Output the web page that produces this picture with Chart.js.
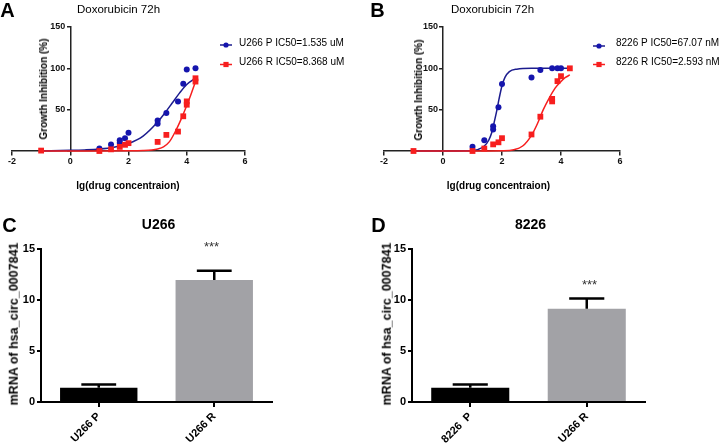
<!DOCTYPE html>
<html><head><meta charset="utf-8">
<script src="https://cdn.jsdelivr.net/npm/chart.js@4.4.1/dist/chart.umd.min.js"></script>
<style>
body{margin:0;background:#fff;}
#wrap{position:relative;width:720px;height:443px;overflow:hidden;font-family:'Liberation Sans',Arial,sans-serif;color:#000;background:#fff;}
canvas{position:absolute;}
.t{position:absolute;white-space:nowrap;line-height:1;transform:translate(-50%,-50%);}
.b{font-weight:bold;}
.v{transform:translate(-50%,-50%) rotate(-90deg);}
</style></head><body><div id="wrap">
<canvas id="cA" width="360" height="200" style="left:0;top:0"></canvas>
<canvas id="cB" width="360" height="200" style="left:360px;top:0"></canvas>
<canvas id="cC" width="360" height="243" style="left:0;top:200px"></canvas>
<canvas id="cD" width="360" height="243" style="left:360px;top:200px"></canvas>

<div class="t b" style="left:7.5px;top:10px;font-size:20px">A</div>
<div class="t b" style="left:377.5px;top:10px;font-size:20px">B</div>
<div class="t b" style="left:9.5px;top:225px;font-size:20px">C</div>
<div class="t b" style="left:378.5px;top:225px;font-size:20px">D</div>

<div class="t" style="left:118.5px;top:10px;font-size:11.5px">Doxorubicin 72h</div>
<div class="t" style="left:492.5px;top:10px;font-size:11.5px">Doxorubicin 72h</div>
<div class="t b" style="left:158.5px;top:223.5px;font-size:14px">U266</div>
<div class="t b" style="left:530.5px;top:224px;font-size:14px">8226</div>

<div class="t b" style="left:128px;top:186px;font-size:10px">lg(drug concentraion)</div>
<div class="t b" style="left:498.5px;top:186px;font-size:10px">lg(drug concentraion)</div>
<div class="t b v" style="left:44px;top:89px;font-size:10px">Growth Inhibition (%)</div>
<div class="t b v" style="left:418.5px;top:90px;font-size:10px">Growth Inhibition (%)</div>
<div class="t b v" style="left:14px;top:324px;font-size:12.5px">mRNA of hsa_circ_0007841</div>
<div class="t b v" style="left:387px;top:324px;font-size:12.5px">mRNA of hsa_circ_0007841</div>

<div class="t" style="left:211.5px;top:246px;font-size:13px;color:#333">***</div>
<div class="t" style="left:589.5px;top:284px;font-size:13px;color:#333">***</div>
</div>
<script>
// ---------- Panel A : U266, Doxorubicin 72h ----------
const aParentX = [1.0, 1.4, 1.7, 1.7, 1.88, 2.0, 3.0, 3.0, 3.3, 3.7, 3.88, 4.0, 4.3];
const aParentY = [3, 8, 10, 13, 15.5, 22, 37, 33, 46, 60, 81.5, 98.5, 100];
const aResistX = [-1, 1.0, 1.4, 1.7, 1.88, 2.0, 3.0, 3.3, 3.7, 3.88, 4.0, 4.0, 4.3, 4.3];
const aResistY = [0.5, 0, 2, 5, 7.5, 9.5, 11, 19.5, 23.5, 42, 56, 60, 84, 88];
const aParentFitX = [-1, 0, 0.5, 1, 1.5, 2, 2.5, 3, 3.25, 3.5, 3.75, 4, 4.3];
const aParentFitY = [0.3, 0.8, 1.3, 2.3, 4.5, 9, 18, 35, 46, 58, 70, 80.5, 88];
const aResistFitX = [-1, 0, 1, 2, 2.5, 2.8, 3, 3.2, 3.4, 3.6, 3.8, 4, 4.15, 4.3];
const aResistFitY = [0, 0, 0, 0.2, 0.6, 1.3, 2.5, 5, 11, 23, 38, 55, 69, 84];
const aLegend = ['U266 P IC50=1.535 uM', 'U266 R IC50=8.368 uM'];

// ---------- Panel B : 8226, Doxorubicin 72h ----------
const bParentX = [1.0, 1.4, 1.7, 1.7, 1.88, 2.0, 3.0, 3.3, 3.7, 3.88, 4.0];
const bParentY = [5, 13, 30, 26, 53, 81, 89, 98, 100, 100, 100];
const bResistX = [-1, 1.0, 1.4, 1.7, 1.88, 2.0, 3.0, 3.3, 3.7, 3.7, 3.88, 4.0, 4.3];
const bResistY = [0, 0, 3, 8, 10.5, 15.5, 20, 41.5, 63, 60, 84.5, 90.5, 100];
const bParentFitX = [-1, 0, 0.8, 1, 1.2, 1.4, 1.55, 1.65, 1.75, 1.83, 1.9, 2, 2.1, 2.25, 2.5, 3, 3.5, 4.3];
const bParentFitY = [0, 0, 0.2, 0.6, 2, 6, 13, 22, 37, 50, 63, 79, 89, 96, 99, 100, 100, 100];
const bResistFitX = [-1, 0, 1, 2, 2.4, 2.7, 3, 3.2, 3.4, 3.6, 3.8, 4, 4.15, 4.3];
const bResistFitY = [0, 0, 0, 0.3, 1.5, 6, 19, 33, 50, 64, 76, 84, 89, 92];
const bLegend = ['8226 P IC50=67.07 nM', '8226 R IC50=2.593 nM'];

// ---------- Panels C / D : mRNA of hsa_circ_0007841 ----------
const cLabels = ['U266 P', 'U266 R'];
const cMeans = [1.4, 11.95];
const cErrors = [0.32, 0.92];
const dLabels = ['8226  P', 'U266 R'];
const dMeans = [1.4, 9.15];
const dErrors = [0.32, 1.0];

const doseXRange = [-2, 6];
const doseYRange = [0, 150];
const barYRange = [0, 15];

const RED = '#f71e1e';
const BLUE_PT = '#1515ad';
const BLUE_LN = '#1c1c8e';
const BAR_COLORS = ['#000000', '#a2a2a6'];
const FONT = "'Liberation Sans', Arial, sans-serif";
Chart.defaults.font.family = FONT;
Chart.defaults.color = '#000';

const zip = (xs, ys) => xs.map((x, i) => ({x: x, y: ys[i]}));

// custom legend: short line + marker + label
const fitLegend = {
  id: 'fitLegend',
  afterDraw(chart, args, o) {
    if (!o || !o.rows) return;
    const ctx = chart.ctx;
    ctx.save();
    o.rows.forEach((r, i) => {
      const pts = chart.data.datasets[r.points];
      const ln = chart.data.datasets[r.line];
      const my = o.markY + i * o.dy;
      ctx.strokeStyle = ln.borderColor;
      ctx.lineWidth = 1.5;
      ctx.beginPath();
      ctx.moveTo(o.x, my); ctx.lineTo(o.x + o.len, my);
      ctx.stroke();
      const cx = o.x + o.len / 2;
      ctx.fillStyle = pts.backgroundColor;
      ctx.beginPath();
      if (pts.pointStyle === 'rect') {
        ctx.rect(cx - 2.6, my - 2.6, 5.2, 5.2);
      } else {
        ctx.arc(cx, my, 2.6, 0, Math.PI * 2);
      }
      ctx.fill();
      ctx.fillStyle = '#000';
      ctx.font = o.font;
      ctx.textBaseline = 'middle';
      ctx.textAlign = 'left';
      ctx.fillText(pts.label, o.textX, o.textY + i * o.dy);
    });
    ctx.restore();
  }
};

// error bars (upper only) for bar charts
const errBars = {
  id: 'errBars',
  afterDatasetsDraw(chart, args, o) {
    if (!o || !o.errors) return;
    const meta = chart.getDatasetMeta(0);
    const ys = chart.scales.y;
    const vals = chart.data.datasets[0].data;
    const ctx = chart.ctx;
    ctx.save();
    ctx.strokeStyle = '#000';
    ctx.lineWidth = 2.5;
    ctx.lineCap = 'butt';
    meta.data.forEach((el, i) => {
      const top = ys.getPixelForValue(vals[i] + o.errors[i]);
      const half = el.width * o.cap / 2;
      ctx.beginPath();
      ctx.moveTo(el.x, el.y);
      ctx.lineTo(el.x, top);
      ctx.moveTo(el.x - half, top);
      ctx.lineTo(el.x + half, top);
      ctx.stroke();
    });
    ctx.restore();
  }
};

function doseChart(id, pX, pY, rX, rY, pfX, pfY, rfX, rfY, labels, pad, leg) {
  return new Chart(document.getElementById(id), {
    type: 'scatter',
    data: {
      datasets: [
        {label: labels[1], data: zip(rX, rY), pointStyle: 'rect', pointRadius: 4.1, backgroundColor: RED, borderWidth: 0, clip: false},
        {label: labels[0], data: zip(pX, pY), pointStyle: 'circle', pointRadius: 3, backgroundColor: BLUE_PT, borderWidth: 0, clip: false},
        {label: 'fitR', data: zip(rfX, rfY), showLine: true, pointRadius: 0, borderColor: RED, borderWidth: 1.5, cubicInterpolationMode: 'monotone', fill: false, clip: false},
        {label: 'fitP', data: zip(pfX, pfY), showLine: true, pointRadius: 0, borderColor: BLUE_LN, borderWidth: 1.5, cubicInterpolationMode: 'monotone', fill: false, clip: false}
      ]
    },
    options: {
      responsive: false,
      animation: false,
      devicePixelRatio: 1,
      layout: {padding: pad},
      plugins: {
        legend: {display: false},
        tooltip: {enabled: false},
        fitLegend: leg
      },
      scales: {
        x: {
          type: 'linear', min: doseXRange[0], max: doseXRange[1],
          position: {y: 0},
          afterFit: s => { s.height = 0; },
          ticks: {stepSize: 2, font: {size: 9, weight: 'bold'}, color: '#111', padding: 1},
          grid: {drawOnChartArea: false, tickLength: 4, color: '#222', lineWidth: 1.5},
          border: {color: '#222', width: 1.5}
        },
        y: {
          type: 'linear', min: doseYRange[0], max: doseYRange[1],
          position: {x: 0},
          afterFit: s => { s.width = 0; },
          ticks: {stepSize: 50, font: {size: 9, weight: 'bold'}, color: '#111',
                  callback: v => (v === 0 ? '' : v + '  ')},
          grid: {drawOnChartArea: false, tickLength: 3, color: '#222', lineWidth: 1.5},
          border: {color: '#222', width: 1.5}
        }
      }
    },
    plugins: [fitLegend]
  });
}

doseChart('cA', aParentX, aParentY, aResistX, aResistY, aParentFitX, aParentFitY, aResistFitX, aResistFitY,
  aLegend, {left: 12, right: 115, top: 27, bottom: 49},
  {rows: [{points: 1, line: 3}, {points: 0, line: 2}], x: 220, len: 12, markY: 45, dy: 19.5, textX: 239, textY: 42.8, font: "10px " + FONT});

doseChart('cB', bParentX, bParentY, bResistX, bResistY, bParentFitX, bParentFitY, bResistFitX, bResistFitY,
  bLegend, {left: 24, right: 100, top: 27, bottom: 49},
  {rows: [{points: 1, line: 3}, {points: 0, line: 2}], x: 233, len: 12, markY: 46, dy: 18.5, textX: 256, textY: 43.5, font: "10px " + FONT});

function barChart(id, labels, means, errors, yWidth, rightPad) {
  return new Chart(document.getElementById(id), {
    type: 'bar',
    data: {
      labels: labels,
      datasets: [{data: means, backgroundColor: BAR_COLORS, borderWidth: 0, barPercentage: 0.67, categoryPercentage: 1}]
    },
    options: {
      responsive: false,
      animation: false,
      devicePixelRatio: 1,
      layout: {padding: {left: 0, right: rightPad, top: 49, bottom: 0}},
      plugins: {legend: {display: false}, tooltip: {enabled: false}, errBars: {errors: errors, cap: 0.45}},
      scales: {
        x: {
          afterFit: s => { s.height = 41; },
          ticks: {minRotation: 45, maxRotation: 45, autoSkip: false, font: {size: 11, weight: 'bold'}, color: '#000', padding: 3},
          grid: {offset: false, drawOnChartArea: false, tickLength: 5, color: '#000', lineWidth: 2},
          border: {color: '#000', width: 2}
        },
        y: {
          min: barYRange[0], max: barYRange[1],
          afterFit: s => { s.width = yWidth; },
          ticks: {stepSize: 5, font: {size: 11, weight: 'bold'}, color: '#000', padding: 2},
          grid: {drawOnChartArea: false, tickLength: 4, color: '#000', lineWidth: 2},
          border: {color: '#000', width: 2}
        }
      }
    },
    plugins: [errBars]
  });
}

barChart('cC', cLabels, cMeans, cErrors, 41, 88);
barChart('cD', dLabels, dMeans, dErrors, 52, 75);
</script>
</body></html>
